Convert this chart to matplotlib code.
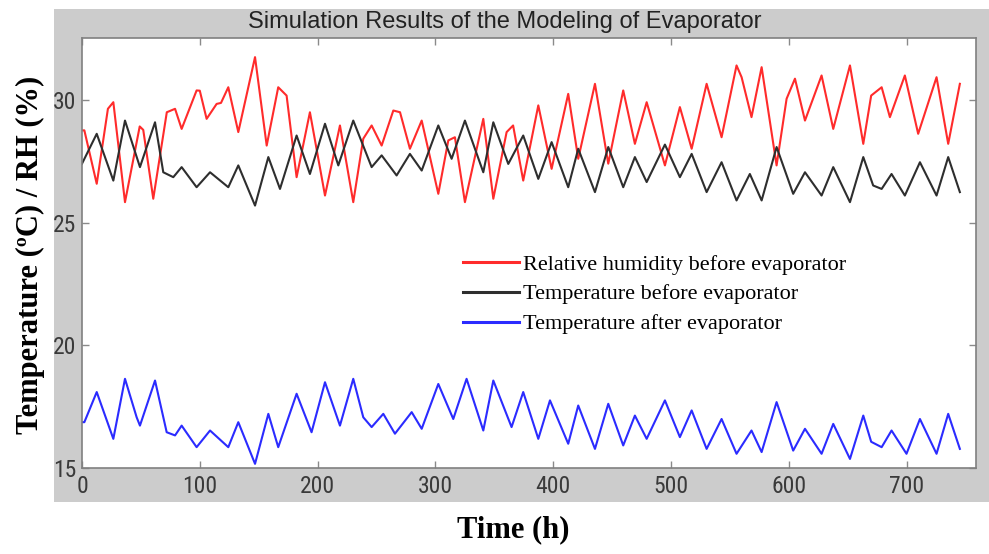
import matplotlib
matplotlib.use('Agg')
import matplotlib.pyplot as plt
from matplotlib.patches import Rectangle
from matplotlib import font_manager

# ---------------- data ----------------
rh_t = [0, 2, 12.5, 22, 26.6, 36.5, 49, 52, 60.5, 72, 79, 84.6, 97.3, 100, 105.8, 114.3, 118,
        124.2, 132.7, 146.9, 156.8, 166.6, 173.7, 182.2, 193.5, 206.3, 219, 230.3, 238.8, 245.9,
        254.4, 264.3, 270, 278.4, 288.4, 302.5, 311, 316.6, 325.1, 340.7, 349.2, 360.5, 366,
        374.6, 387.4, 398.7, 412.8, 421.3, 435.5, 446.8, 459.5, 469.4, 479.4, 494.9, 507.6,
        517.6, 530.3, 543, 555.7, 560, 568.4, 577, 589.7, 598.2, 605.3, 613.8, 627.9, 637.8,
        652, 663.3, 670, 678.9, 685.9, 698.6, 709.9, 725.5, 735.4, 745.3]
rh_v = [28.78, 28.78, 26.6, 29.66, 29.93, 25.85, 28.94, 28.8, 25.99, 29.52, 29.66, 28.84, 30.41,
        30.4, 29.25, 29.86, 29.9, 30.54, 28.71, 31.77, 28.16, 30.54, 30.2, 26.87, 29.52, 26.12,
        28.98, 25.85, 28.44, 28.98, 28.16, 29.59, 29.52, 28.03, 29.18, 26.19, 28.37, 28.5, 25.85,
        29.25, 25.99, 28.71, 28.98, 26.73, 29.8, 27.21, 30.27, 27.62, 30.68, 27.42, 30.41, 28.23,
        29.93, 27.35, 29.73, 28.03, 30.68, 28.5, 31.43, 30.95, 29.32, 31.36, 27.35, 30.07, 30.89,
        29.18, 31.02, 28.84, 31.43, 28.23, 30.2, 30.54, 29.32, 31.02, 28.64, 30.95, 28.23, 30.68]

tb_t = [0, 12.5, 26.6, 36.5, 49.2, 62, 69, 77.5, 84.6, 97.3, 108.7, 124.2, 132.7, 146.9, 158.2,
        168.1, 182.2, 193.5, 206.3, 217.6, 230.3, 245.9, 254.4, 267.1, 278.4, 288.4, 302.5,
        313.8, 325.1, 340.7, 349.2, 361.9, 374.6, 387.4, 398.7, 412.8, 421.3, 435.5, 446.8,
        459.5, 469.4, 479.4, 494.9, 507.6, 517.6, 530.3, 543, 555.7, 567, 577, 589.7, 603.8,
        613.8, 627.9, 637.8, 652, 663.3, 671.7, 678.9, 687.3, 698.6, 711.4, 725.5, 735.4, 745.3]
tb_v = [27.42, 28.64, 26.73, 29.18, 27.28, 29.11, 27.07, 26.87, 27.28, 26.46, 27.07, 26.46, 27.35,
        25.71, 27.69, 26.39, 28.57, 27.0, 29.05, 27.35, 29.18, 27.28, 27.76, 26.94, 27.82, 27.14,
        28.98, 27.62, 29.18, 27.07, 29.11, 27.41, 28.57, 26.8, 28.3, 26.46, 28.03, 26.26, 28.1,
        26.46, 27.69, 26.67, 28.2, 26.87, 27.82, 26.26, 27.48, 25.92, 27.0, 25.92, 28.1, 26.19,
        27.07, 26.12, 27.28, 25.85, 27.69, 26.53, 26.39, 27.0, 26.12, 27.48, 26.12, 27.69, 26.26]

ta_t = [0, 2, 12.5, 26.6, 36.5, 46.4, 49.2, 62, 71.9, 79, 84.6, 97.3, 108.7, 124.2, 132.7, 146.9,
        158.2, 166.6, 182.2, 194.9, 206.3, 219, 230.3, 238.8, 245.9, 255.8, 265.7, 279.9, 288.4,
        302.5, 315.2, 326.5, 340.7, 349.2, 364.7, 374.6, 387.4, 397.3, 412.8, 421.3, 435.5,
        446.8, 459.5, 469.4, 479.4, 494.9, 507.6, 517.6, 530.3, 543, 555.7, 568.4, 577, 589.7,
        603.8, 613.8, 627.9, 637.8, 652, 663.3, 670, 678.9, 687.3, 700, 711.4, 725.5, 735.4, 745.3]
ta_v = [16.87, 16.87, 18.1, 16.19, 18.64, 17.07, 16.73, 18.57, 16.46, 16.33, 16.73, 15.85, 16.53,
        15.85, 16.87, 15.17, 17.21, 15.85, 18.03, 16.46, 18.5, 16.73, 18.64, 17.07, 16.67, 17.21,
        16.4, 17.28, 16.6, 18.43, 17.0, 18.64, 16.53, 18.57, 16.67, 18.1, 16.19, 17.76, 15.99,
        17.55, 15.78, 17.62, 15.92, 17.14, 16.19, 17.76, 16.26, 17.35, 15.78, 17.0, 15.58, 16.53,
        15.65, 17.69, 15.71, 16.6, 15.58, 16.8, 15.37, 17.14, 16.07, 15.85, 16.53, 15.58, 17.0,
        15.58, 17.21, 15.78]

labels = ['Relative humidity before evaporator',
          'Temperature before evaporator',
          'Temperature after evaporator']
x_ticks = [0, 100, 200, 300, 400, 500, 600, 700]
y_ticks = [15, 20, 25, 30]
title = 'Simulation Results of the Modeling of Evaporator'
xlabel = 'Time (h)'
ylabel = 'Temperature (\u00baC) / RH (%)'

# pick a narrow sans face for tick labels if one is installed
installed = {f.name for f in font_manager.fontManager.ttflist}
narrow = [n for n in ['Liberation Sans Narrow', 'Roboto Condensed', 'DejaVu Sans Condensed',
                      'Open Sans Condensed'] if n in installed]
tick_font = narrow + ['Roboto', 'DejaVu Sans']

# ---------------- layout ----------------
W, H = 989, 554
fig = plt.figure(figsize=(W / 100, H / 100), dpi=100)
fig.patch.set_facecolor('white')
fig.patches.append(Rectangle((54 / W, (H - 502) / H), (W - 54) / W, (502 - 9) / H,
                             transform=fig.transFigure, facecolor='#cccccc',
                             edgecolor='none', zorder=-5))

ax = fig.add_axes([82 / W, (H - 468) / H, (976 - 82) / W, (468 - 38) / H])
ax.set_facecolor('white')

ax.plot(rh_t, rh_v, color='#ff2b2b', lw=1.5, solid_joinstyle='round', label=labels[0])
ax.plot(tb_t, tb_v, color='#2e2e2e', lw=1.5, solid_joinstyle='round', label=labels[1])
ax.plot(ta_t, ta_v, color='#2b2bff', lw=1.5, solid_joinstyle='round', label=labels[2])

ax.set_xlim(0, 759)
ax.set_ylim(15, 32.55)
ax.set_xticks(x_ticks)
ax.set_yticks(y_ticks)
ax.set_xticklabels([str(v) for v in x_ticks], family=tick_font, fontsize=17, color='#3a3a3a')
ax.set_yticklabels([str(v) for v in y_ticks], family=tick_font, fontsize=17, color='#3a3a3a')
ax.tick_params(direction='in', top=True, right=True, length=5, width=1, color='#8a8a8a')
ax.tick_params(axis='x', pad=5)
ax.tick_params(axis='y', pad=4)
for s in ax.spines.values():
    s.set_color('#808080')
    s.set_linewidth(1.2)

fig.text(505 / W, 1 - 22 / H, title, ha='center', va='center',
         family=['Liberation Sans', 'DejaVu Sans'], fontsize=17, color='#222222')
fig.text(30 / W, 1 - 255 / H, ylabel, ha='center', va='center', rotation=90,
         family=['Liberation Serif', 'DejaVu Serif'], fontweight='bold', fontsize=22)
fig.text(513 / W, 1 - 530 / H, xlabel, ha='center', va='center',
         family=['Liberation Serif', 'DejaVu Serif'], fontweight='bold', fontsize=22)

leg = ax.legend(loc='upper left', bbox_to_anchor=(463 / W, 1 - 254 / H),
                bbox_transform=fig.transFigure, frameon=False, borderpad=0,
                borderaxespad=0, handlelength=2.5, handletextpad=0.2,
                labelspacing=0.42, prop={'family': ['Liberation Serif', 'DejaVu Serif'], 'size': 16})
for line in leg.get_lines():
    line.set_linewidth(2.2)

fig.savefig('out.png', dpi=100, facecolor='white')
